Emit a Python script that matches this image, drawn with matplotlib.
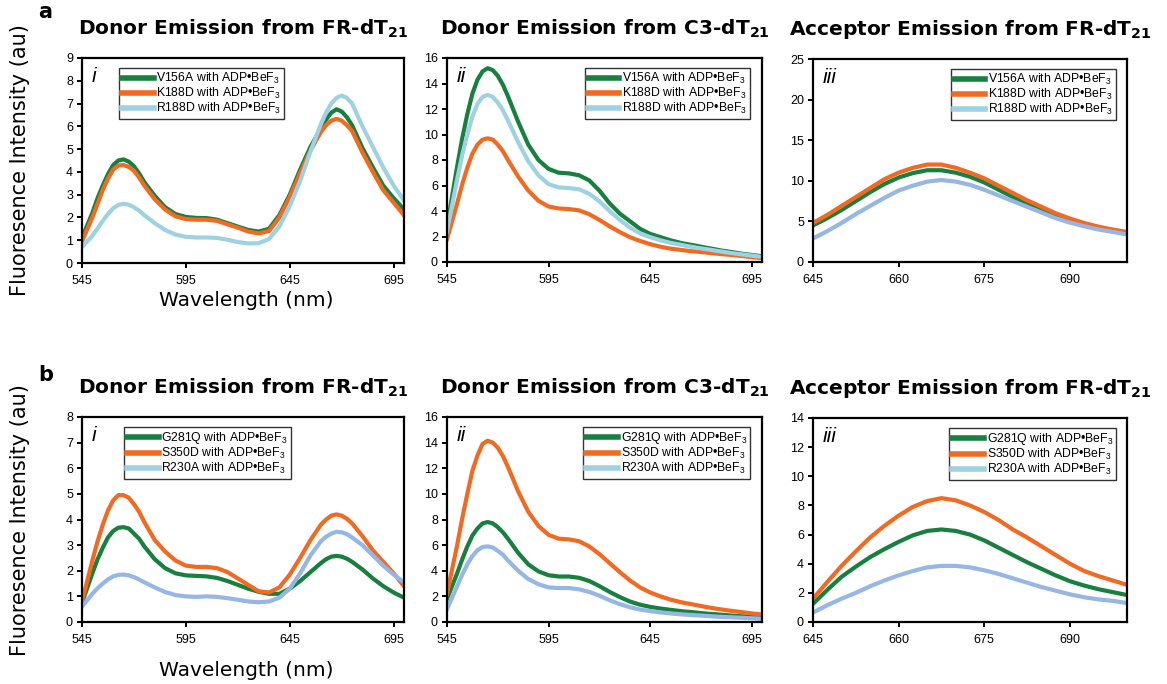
import matplotlib
matplotlib.use('Agg')
import matplotlib.pyplot as plt
from matplotlib.lines import Line2D

plt.rcParams['mathtext.fontset'] = 'custom'
plt.rcParams['mathtext.rm'] = 'Liberation Sans'
plt.rcParams['mathtext.it'] = 'Liberation Sans:italic'
plt.rcParams['mathtext.bf'] = 'DejaVu Sans:bold'

# wavelengths (nm)
wl_donor = [545, 550, 552.5, 555, 557.5, 560, 562.5, 565, 567.5, 570, 572.5, 575, 580, 585, 590,
            595, 600, 605, 610, 615, 620, 625, 630, 635, 640, 645, 650, 655, 660, 662.5, 665,
            667.5, 670, 672.5, 675, 680, 685, 690, 695, 700]
wl_acc = [645, 647.5, 650, 652.5, 655, 657.5, 660, 662.5, 665, 667.5, 670, 672.5, 675,
          677.5, 680, 682.5, 685, 687.5, 690, 692.5, 695, 697.5, 700]

# row a, panel i : donor emission from FR-dT21
a1_v156a = [1.1, 2.2, 2.85, 3.4, 3.9, 4.3, 4.5, 4.55, 4.45, 4.25, 3.93, 3.55, 2.95, 2.45, 2.15,
            2.02, 1.98, 1.97, 1.9, 1.75, 1.6, 1.45, 1.38, 1.5, 2.1, 3.0, 4.1, 5.1, 5.9, 6.3, 6.6,
            6.75, 6.65, 6.4, 6.05, 5.05, 4.2, 3.4, 2.85, 2.35]
a1_k188d = [0.95, 2.0, 2.6, 3.2, 3.7, 4.1, 4.28, 4.3, 4.22, 4.05, 3.75, 3.4, 2.8, 2.35, 2.05,
            1.93, 1.9, 1.9, 1.85, 1.7, 1.55, 1.38, 1.3, 1.4, 2.0, 2.9, 3.95, 4.95, 5.75, 6.05, 6.25,
            6.33, 6.25, 6.05, 5.8, 4.85, 4.0, 3.2, 2.65, 2.1]
a1_r188d = [0.7, 1.2, 1.52, 1.85, 2.15, 2.4, 2.55, 2.6, 2.56, 2.45, 2.3, 2.1, 1.75, 1.45, 1.25,
            1.15, 1.12, 1.12, 1.1, 1.02, 0.92, 0.86, 0.87, 1.05, 1.6, 2.5, 3.6, 4.9, 6.1, 6.6, 7.0,
            7.25, 7.35, 7.25, 7.0, 6.0, 5.1, 4.2, 3.4, 2.75]

# row a, panel ii : donor emission from C3-dT21
a2_v156a = [2.75, 7.5, 9.7, 11.6, 13.2, 14.3, 14.95, 15.2, 15.05, 14.6, 13.9, 13.0, 11.0, 9.2, 8.0,
            7.3, 7.0, 6.95, 6.8, 6.4, 5.6, 4.6, 3.8, 3.2, 2.6, 2.2, 1.95, 1.7, 1.5, 1.42, 1.35,
            1.28, 1.2, 1.12, 1.05, 0.9, 0.78, 0.65, 0.55, 0.45]
a2_k188d = [1.8, 4.6, 6.1, 7.4, 8.5, 9.2, 9.6, 9.7, 9.6, 9.2, 8.7, 8.0, 6.7, 5.6, 4.8,
            4.35, 4.2, 4.15, 4.05, 3.75, 3.3, 2.8, 2.35, 1.95, 1.65, 1.4, 1.2, 1.05, 0.95, 0.9, 0.85,
            0.82, 0.78, 0.74, 0.7, 0.62, 0.55, 0.47, 0.38, 0.3]
a2_r188d = [2.4, 6.5, 8.4, 10.0, 11.4, 12.4, 12.95, 13.1, 12.95, 12.5, 11.9, 11.1, 9.4, 7.9, 6.8,
            6.1, 5.85, 5.8, 5.7, 5.35, 4.75, 4.0, 3.3, 2.7, 2.25, 1.95, 1.7, 1.5, 1.35, 1.27, 1.2,
            1.13, 1.07, 1.01, 0.95, 0.82, 0.7, 0.6, 0.5, 0.4]

# row a, panel iii : acceptor emission from FR-dT21
a3_v156a = [4.5, 5.4, 6.4, 7.5, 8.6, 9.6, 10.4, 10.95, 11.3, 11.3, 11.0, 10.5, 9.8,
            8.9, 8.0, 7.2, 6.4, 5.7, 5.1, 4.6, 4.2, 3.9, 3.6]
a3_k188d = [4.8, 5.8, 6.9, 8.0, 9.1, 10.2, 11.0, 11.6, 12.0, 12.0, 11.6, 11.0, 10.3,
            9.4, 8.5, 7.6, 6.8, 6.0, 5.35, 4.8, 4.35, 4.0, 3.7]
a3_r188d = [2.9, 3.8, 4.8, 5.9, 6.9, 7.9, 8.8, 9.4, 9.9, 10.1, 9.9, 9.5, 8.9,
            8.2, 7.5, 6.8, 6.1, 5.4, 4.85, 4.4, 4.0, 3.7, 3.4]

# row b, panel i
b1_g281q = [0.75, 1.9, 2.45, 2.9, 3.3, 3.55, 3.68, 3.7, 3.65, 3.45, 3.25, 2.95, 2.45, 2.1, 1.9,
            1.82, 1.8, 1.78, 1.72, 1.6, 1.45, 1.3, 1.18, 1.1, 1.1, 1.3, 1.6, 1.95, 2.3, 2.45, 2.55,
            2.58, 2.55, 2.47, 2.35, 2.05, 1.7, 1.4, 1.15, 0.95]
b1_s350d = [0.8, 2.4, 3.15, 3.8, 4.35, 4.75, 4.95, 4.95, 4.85, 4.6, 4.3, 3.9, 3.2, 2.75, 2.4,
            2.2, 2.15, 2.15, 2.1, 1.95, 1.7, 1.45, 1.2, 1.15, 1.35, 1.85, 2.5, 3.2, 3.8, 4.0, 4.15,
            4.2, 4.15, 4.03, 3.85, 3.35, 2.8, 2.35, 1.9, 1.4]
b1_r230a = [0.6, 1.1, 1.32, 1.5, 1.66, 1.78, 1.84, 1.85, 1.82, 1.75, 1.66, 1.55, 1.35, 1.17, 1.05,
            1.0, 0.98, 1.0, 0.98, 0.93, 0.87, 0.8, 0.77, 0.8, 0.95, 1.3, 1.9, 2.6, 3.15, 3.33, 3.45,
            3.52, 3.5, 3.43, 3.3, 3.0, 2.6, 2.2, 1.85, 1.55]

# row b, panel ii
b2_g281q = [1.8, 3.8, 4.9, 5.9, 6.75, 7.3, 7.7, 7.8, 7.7, 7.4, 7.0, 6.5, 5.4, 4.5, 3.95,
            3.65, 3.55, 3.55, 3.45, 3.2, 2.8, 2.35, 1.95, 1.6, 1.35, 1.18, 1.05, 0.95, 0.85, 0.81, 0.78,
            0.74, 0.7, 0.66, 0.63, 0.57, 0.5, 0.45, 0.4, 0.35]
b2_s350d = [2.2, 6.0, 8.1, 10.0, 11.8, 13.0, 13.9, 14.15, 14.0, 13.6, 12.95, 12.1, 10.2, 8.6, 7.5,
            6.8, 6.5, 6.45, 6.3, 5.9, 5.3, 4.6, 3.9, 3.25, 2.7, 2.3, 2.0, 1.75, 1.55, 1.47, 1.4,
            1.32, 1.25, 1.17, 1.1, 0.98, 0.87, 0.77, 0.67, 0.58]
b2_r230a = [1.0, 2.8, 3.7, 4.5, 5.15, 5.6, 5.85, 5.9, 5.82, 5.55, 5.25, 4.8, 4.0, 3.35, 2.95,
            2.7, 2.65, 2.65, 2.55, 2.35, 2.05, 1.7, 1.4, 1.15, 0.97, 0.85, 0.75, 0.67, 0.6, 0.57, 0.55,
            0.52, 0.5, 0.47, 0.45, 0.4, 0.37, 0.33, 0.29, 0.25]

# row b, panel iii
b3_g281q = [1.25, 2.2, 3.1, 3.8, 4.45, 5.0, 5.5, 5.95, 6.25, 6.35, 6.25, 6.0, 5.6,
            5.1, 4.6, 4.1, 3.65, 3.2, 2.8, 2.5, 2.25, 2.05, 1.85]
b3_s350d = [1.6, 2.75, 3.85, 4.85, 5.8, 6.6, 7.3, 7.9, 8.3, 8.5, 8.35, 8.0, 7.55,
            7.0, 6.35, 5.8, 5.2, 4.6, 4.0, 3.5, 3.15, 2.85, 2.55]
b3_r230a = [0.65, 1.15, 1.6, 2.0, 2.45, 2.85, 3.2, 3.5, 3.75, 3.85, 3.85, 3.75, 3.55,
            3.3, 3.0, 2.7, 2.4, 2.15, 1.9, 1.7, 1.55, 1.45, 1.3]

labels_a = ['V156A with ADP•BeF$_{3}$', 'K188D with ADP•BeF$_{3}$', 'R188D with ADP•BeF$_{3}$']
labels_b = ['G281Q with ADP•BeF$_{3}$', 'S350D with ADP•BeF$_{3}$', 'R230A with ADP•BeF$_{3}$']

titles = ['Donor Emission from FR-dT$_{\\mathbf{21}}$',
          'Donor Emission from C3-dT$_{\\mathbf{21}}$',
          'Acceptor Emission from FR-dT$_{\\mathbf{21}}$']
romans = ['i', 'ii', 'iii']

GREEN = '#17803f'
ORANGE = '#f26a22'
CYAN = '#9ed2e2'
BLUE = '#96b6e4'

W, H = 1167, 684
fig = plt.figure(figsize=(W / 100, H / 100), dpi=100)


def make_axes(l, t, r, b):
    return fig.add_axes([l / W, 1 - b / H, (r - l) / W, (b - t) / H])


def panel(ax, x, ys, colors, labels, xticks, ymax, ystep, k, leg_loc, leg_anchor):
    for y, c in zip(ys, colors):
        ax.plot(x, y, color=c, lw=3, solid_joinstyle='round')
    ax.set_xlim(xticks[0], 700)
    ax.set_ylim(0, ymax)
    ax.set_xticks(xticks)
    ax.set_yticks(range(0, ymax + 1, ystep))
    ax.tick_params(direction='out', length=3.5, width=1.4, labelsize=9, pad=3)
    ax.tick_params(axis='x', pad=5)
    for lab in ax.get_xticklabels() + ax.get_yticklabels():
        lab.set_family('Liberation Sans')
    for s in ax.spines.values():
        s.set_linewidth(1.6)
    ax.set_title(titles[k], fontsize=14.5, fontweight='bold', family='DejaVu Sans', pad=17)
    ax.text(0.03, 0.955, romans[k], transform=ax.transAxes, ha='left', va='top',
            fontsize=15, style='italic', family='Liberation Sans')
    leg_colors = [GREEN, ORANGE, CYAN]
    handles = [Line2D([], [], color=c, lw=4) for c in leg_colors]
    leg = ax.legend(handles, labels, loc=leg_loc, bbox_to_anchor=leg_anchor,
                    prop={'family': 'Liberation Sans', 'size': 8.8}, fancybox=False,
                    edgecolor='#333333', framealpha=1, borderpad=0.25, handlelength=2.6,
                    handletextpad=0.2, labelspacing=0.0, borderaxespad=0)
    leg.get_frame().set_linewidth(1.0)


donor_ticks = [545, 595, 645, 695]
acc_ticks = [645, 660, 675, 690]

ax = make_axes(82, 58, 404, 263)
panel(ax, wl_donor, [a1_v156a, a1_k188d, a1_r188d], [GREEN, ORANGE, CYAN], labels_a,
      donor_ticks, 9, 1, 0, 'upper left', (0.115, 0.952))
ax = make_axes(447, 58, 762, 262)
panel(ax, wl_donor, [a2_v156a, a2_k188d, a2_r188d], [GREEN, ORANGE, CYAN], labels_a,
      donor_ticks, 16, 2, 1, 'upper right', (0.962, 0.952))
ax = make_axes(813, 59, 1127, 262)
panel(ax, wl_acc, [a3_v156a, a3_k188d, a3_r188d], [GREEN, ORANGE, BLUE], labels_a,
      acc_ticks, 25, 5, 2, 'upper right', (0.965, 0.952))

ax = make_axes(82, 417, 404, 622)
panel(ax, wl_donor, [b1_g281q, b1_s350d, b1_r230a], [GREEN, ORANGE, BLUE], labels_b,
      donor_ticks, 8, 1, 0, 'upper left', (0.131, 0.952))
ax = make_axes(447, 417, 762, 622)
panel(ax, wl_donor, [b2_g281q, b2_s350d, b2_r230a], [GREEN, ORANGE, BLUE], labels_b,
      donor_ticks, 16, 2, 1, 'upper right', (0.962, 0.952))
ax = make_axes(813, 418, 1127, 622)
panel(ax, wl_acc, [b3_g281q, b3_s350d, b3_r230a], [GREEN, ORANGE, BLUE], labels_b,
      acc_ticks, 14, 2, 2, 'upper right', (0.965, 0.952))

# panel letters and shared axis labels
fig.text(45 / W, 1 - 12 / H, 'a', fontsize=15, fontweight='bold', ha='center', va='center')
fig.text(46 / W, 1 - 375 / H, 'b', fontsize=15, fontweight='bold', ha='center', va='center')
for yc in (160, 520):
    fig.text(20 / W, 1 - yc / H, 'Fluoresence Intensity (au)', fontsize=15, rotation=90,
             ha='center', va='center')
for yc in (300, 670):
    fig.text(246 / W, 1 - yc / H, 'Wavelength (nm)', fontsize=14.5, ha='center', va='center')

fig.savefig('out.png', dpi=100)
